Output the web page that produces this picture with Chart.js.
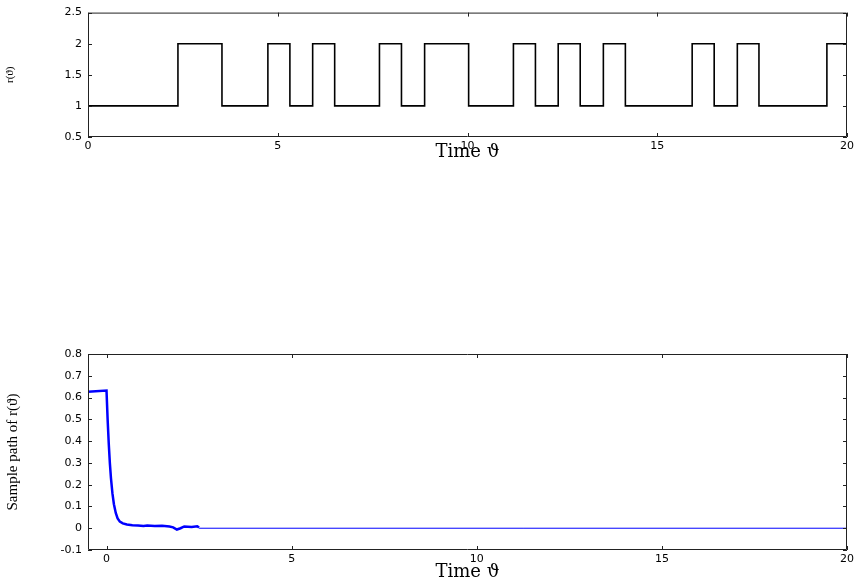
<!DOCTYPE html>
<html>
<head>
<meta charset="utf-8">
<script src="https://cdn.jsdelivr.net/npm/chart.js@4.4.1/dist/chart.umd.min.js"></script>
<style>
  body { margin: 0; background: #fff; }
  .box { position: absolute; left: 0; width: 857px; }
  #top { top: 0; height: 163px; }
  #bottom { top: 340px; height: 243px; }
</style>
</head>
<body>
<div class="box" id="top"><canvas id="modeChart"></canvas></div>
<div class="box" id="bottom"><canvas id="pathChart"></canvas></div>
<script>
// switching times and mode r(theta) after each switch
const switchTimes = [0, 2.37, 3.53, 4.74, 5.32, 5.92, 6.50, 7.68, 8.26, 8.87, 10.03, 11.21,
                     11.79, 12.39, 12.97, 13.58, 14.16, 15.92, 16.50, 17.11, 17.68, 19.47, 20];
const modes = [1, 2, 1, 2, 1, 2, 1, 2, 1, 2, 1, 2, 1, 2, 1, 2, 1, 2, 1, 2, 1, 2, 2];

// sample path (thick part, then flat zero part)
const pathTimes = [-0.5, 0, 0.03, 0.06, 0.09, 0.12, 0.16, 0.2, 0.25, 0.3, 0.36, 0.44, 0.55, 0.7,
                   0.85, 1.0, 1.1, 1.3, 1.5, 1.7, 1.8, 1.9, 2.0, 2.1, 2.3, 2.45, 2.5];
const pathValues = [0.627, 0.632, 0.5, 0.39, 0.3, 0.23, 0.16, 0.11, 0.07, 0.045, 0.03, 0.022, 0.017, 0.014,
                    0.012, 0.01, 0.012, 0.01, 0.011, 0.008, 0.004, -0.006, 0.0, 0.008, 0.006, 0.009, 0.003];
const tailTimes = [2.5, 20];
const tailValues = [0, 0];

const xTicks = [0, 5, 10, 15, 20];
const modeTicks = [0.5, 1, 1.5, 2, 2.5];
const pathTicks = [-0.1, 0, 0.1, 0.2, 0.3, 0.4, 0.5, 0.6, 0.7, 0.8];

const toPoints = (xs, ys) => xs.map((x, i) => ({ x: x, y: ys[i] }));

// ticks pointing inwards on all four sides, plus the frame
const innerTicks = {
  id: 'innerTicks',
  afterDraw(chart) {
    const ctx = chart.ctx;
    const a = chart.chartArea;
    const xs = chart.scales.x, ys = chart.scales.y;
    const len = 4;
    ctx.save();
    ctx.strokeStyle = '#222';
    ctx.lineWidth = 1;
    ctx.beginPath();
    ctx.rect(a.left + 0.5, a.top + 0.5, a.right - a.left - 1, a.bottom - a.top - 1);
    xs.ticks.forEach(t => {
      const px = Math.round(xs.getPixelForValue(t.value)) + 0.5;
      ctx.moveTo(px, a.bottom); ctx.lineTo(px, a.bottom - len);
      ctx.moveTo(px, a.top); ctx.lineTo(px, a.top + len);
    });
    ys.ticks.forEach(t => {
      const py = Math.round(ys.getPixelForValue(t.value)) + 0.5;
      ctx.moveTo(a.left, py); ctx.lineTo(a.left + len, py);
      ctx.moveTo(a.right, py); ctx.lineTo(a.right - len, py);
    });
    ctx.stroke();
    ctx.restore();
  }
};

const tickFont = { family: 'DejaVu Sans', size: 11 };
const titleFont = { family: 'DejaVu Serif', size: 18 };
const plain = v => String(Math.round(v * 10) / 10);

function axes(yMin, yMax, yTicks, xMin, yTitle, yTitleSize, xHeight) {
  return {
    x: {
      type: 'linear', min: xMin, max: 20,
      afterBuildTicks: s => { s.ticks = xTicks.map(v => ({ value: v })); },
      afterFit: s => { s.height = xHeight; },
      grid: { drawOnChartArea: false, drawTicks: false },
      border: { display: false },
      ticks: { color: '#000', font: tickFont, padding: 3, maxRotation: 0, callback: plain },
      title: { display: true, text: 'Time \u03D1', color: '#000', font: titleFont, padding: 0 }
    },
    y: {
      min: yMin, max: yMax,
      afterBuildTicks: s => { s.ticks = yTicks.map(v => ({ value: v })); },
      afterFit: s => { s.width = 88; },
      grid: { drawOnChartArea: false, drawTicks: false },
      border: { display: false },
      ticks: { color: '#000', font: tickFont, padding: 6, callback: plain },
      title: { display: true, text: yTitle, color: '#000',
               font: { family: 'Liberation Serif', size: yTitleSize }, padding: 4 }
    }
  };
}

new Chart(document.getElementById('modeChart'), {
  type: 'line',
  data: {
    datasets: [{
      data: toPoints(switchTimes, modes),
      stepped: 'before',
      borderColor: '#000',
      borderWidth: 1.6,
      pointRadius: 0
    }]
  },
  options: {
    responsive: true, maintainAspectRatio: false, animation: false,
    layout: { padding: { top: 7, right: 9, left: 0, bottom: 0 } },
    plugins: { legend: { display: false }, tooltip: { enabled: false } },
    scales: axes(0.5, 2.5, modeTicks, 0, 'r(\u03D1)', 11, 26)
  },
  plugins: [innerTicks]
});

new Chart(document.getElementById('pathChart'), {
  type: 'line',
  data: {
    datasets: [{
      data: toPoints(pathTimes, pathValues),
      borderColor: '#0000ff',
      borderWidth: 2.5,
      pointRadius: 0,
      tension: 0
    }, {
      data: toPoints(tailTimes, tailValues),
      borderColor: '#0000ff',
      borderWidth: 1,
      pointRadius: 0
    }]
  },
  options: {
    responsive: true, maintainAspectRatio: false, animation: false,
    layout: { padding: { top: 14, right: 9, left: 0, bottom: 0 } },
    plugins: { legend: { display: false }, tooltip: { enabled: false } },
    scales: axes(-0.1, 0.8, pathTicks, -0.5, 'Sample path of r(\u03D1)', 15, 33)
  },
  plugins: [innerTicks]
});
</script>
</body>
</html>
